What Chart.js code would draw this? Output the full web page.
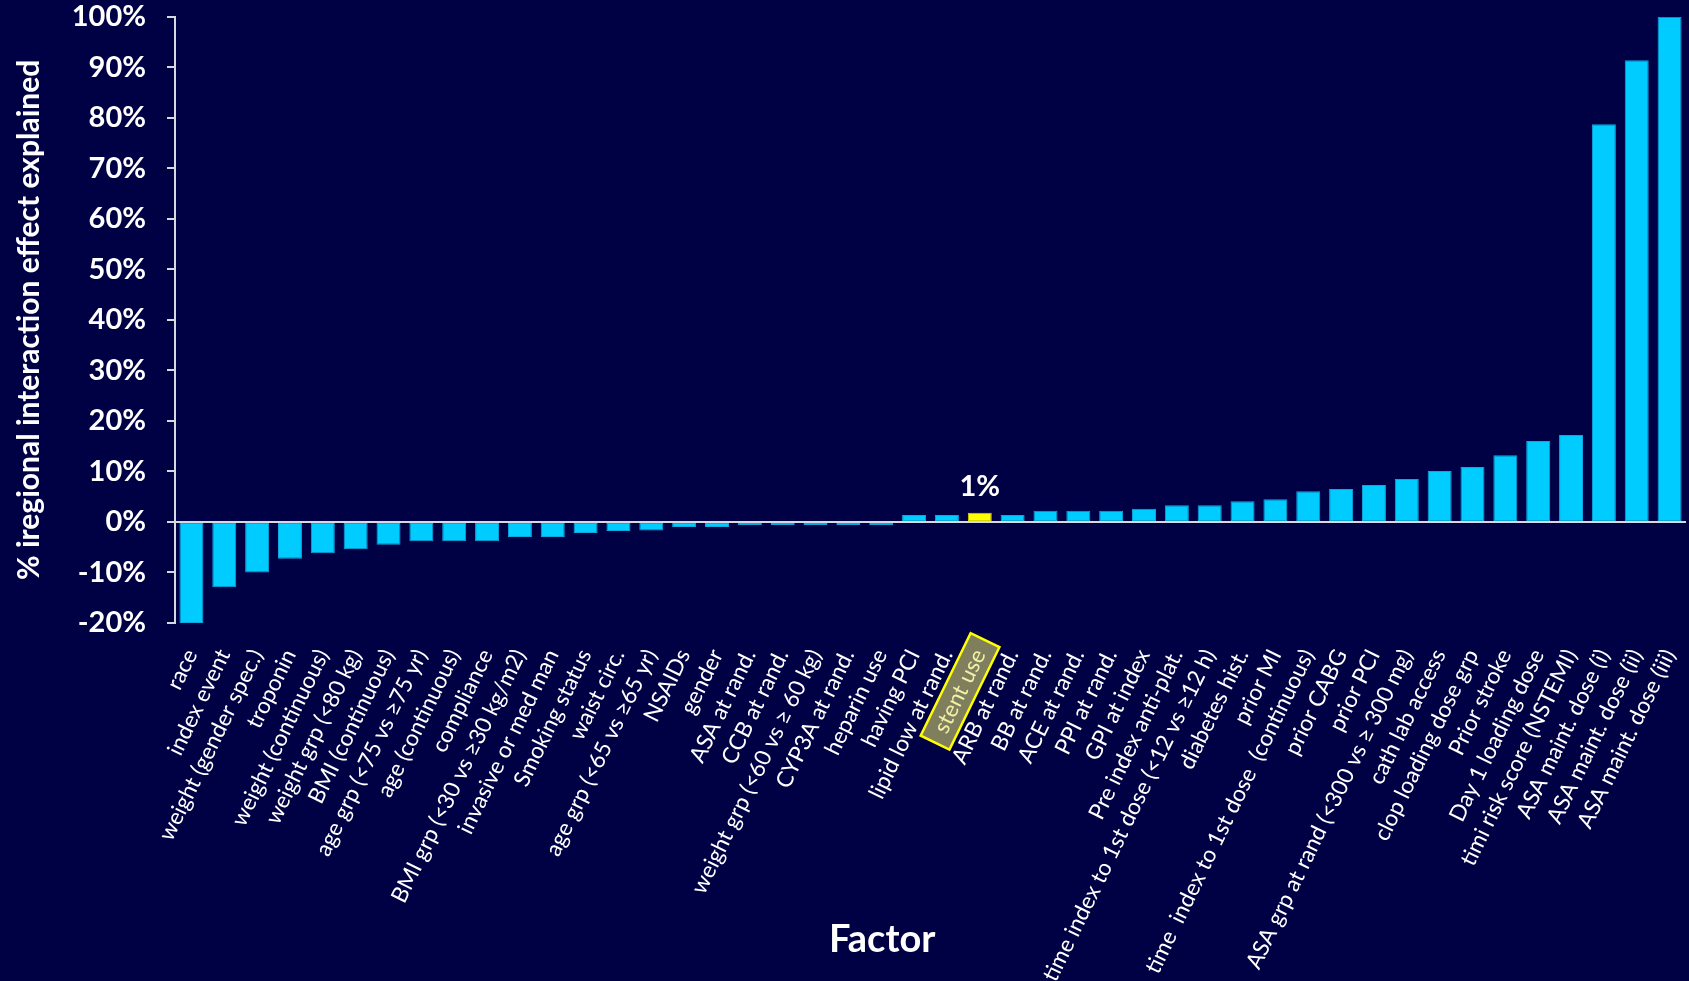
<!DOCTYPE html>
<html>
<head>
<meta charset="utf-8">
<script src="https://cdn.jsdelivr.net/npm/chart.js@4/dist/chart.umd.min.js"></script>
<style>
html,body{margin:0;padding:0;background:#000045;overflow:hidden}
canvas{display:block}
</style>
</head>
<body>
<canvas id="c" width="1689" height="981"></canvas>
<script>
const categories = [
  'race', 'index event', 'weight (gender spec.)', 'troponin', 'weight (continuous)',
  'weight grp (<80 kg)', 'BMI (continuous)', 'age grp (<75 vs \u226575 yr)', 'age (continuous)', 'compliance',
  'BMI grp (<30 vs \u226530 kg/m2)', 'invasive or med man', 'Smoking status', 'waist circ.', 'age grp (<65 vs \u226565 yr)',
  'NSAIDs', 'gender', 'ASA at rand.', 'CCB at rand.', 'weight grp (<60 vs \u2265 60 kg)',
  'CYP3A at rand.', 'heparin use', 'having PCI', 'lipid low at rand.', 'stent use',
  'ARB at rand.', 'BB at rand.', 'ACE at rand.', 'PPI at rand.', 'GPI at index',
  'Pre index anti-plat.', 'time index to 1st dose (<12 vs \u226512 h)', 'diabetes hist.', 'prior MI', 'time  index to 1st dose  (continuous)',
  'prior CABG', 'prior PCI', 'ASA grp at rand (<300 vs \u2265 300 mg)', 'cath lab access', 'clop loading dose grp',
  'Prior stroke', 'Day 1 loading dose', 'timi risk score (NSTEMI)', 'ASA maint. dose (i)', 'ASA maint. dose (ii)',
  'ASA maint. dose (iii)'
];
const values = [
  -20, -12.9, -10.0, -7.3, -6.2,
  -5.4, -4.5, -3.8, -3.8, -3.8,
  -3.0, -3.0, -2.2, -1.8, -1.7,
  -1.0, -1.0, -0.6, -0.6, -0.6,
  -0.6, -0.6, 1.4, 1.4, 1.8,
  1.4, 2.2, 2.2, 2.2, 2.6,
  3.3, 3.3, 4.1, 4.5, 6.1,
  6.5, 7.3, 8.5, 10.1, 10.9,
  13.2, 16.0, 17.2, 78.7, 91.4,
  100
];
const yMin = -20;
const yMax = 100;
const yStep = 10;
const highlightLabel = 'stent use';
const highlightText = '1%';
const yTitle = '% iregional interaction effect explained';
const xTitle = 'Factor';

const FONT = 'Lato';
const BG = '#000045';
const AXIS = '#d8d8e0';
const BAR = '#00ccff';
const HI = '#ffff00';
const XFONT = 22.5;
const XPAD = 22;
const XROT = 64;
const hiIndex = categories.indexOf(highlightLabel);

const decor = {
  id: 'decor',
  beforeDraw(chart) {
    const ctx = chart.ctx;
    ctx.save();
    ctx.fillStyle = BG;
    ctx.fillRect(0, 0, chart.width, chart.height);
    const xs = chart.scales.x;
    const lh = XFONT * 1.2;
    const r = -xs.labelRotation * Math.PI / 180;
    const tx = xs.getPixelForTick(hiIndex) + (lh / 2) * Math.sin(r);
    const ty = xs.top + XPAD;
    ctx.translate(tx, ty);
    ctx.rotate(r);
    ctx.font = XFONT + 'px ' + FONT;
    const w = ctx.measureText(highlightLabel).width;
    const padX = 12, h = 32;
    ctx.fillStyle = '#7f7f5e';
    ctx.fillRect(-w - padX, lh / 2 - h / 2, w + 2 * padX, h);
    ctx.strokeStyle = HI;
    ctx.lineWidth = 2.5;
    ctx.strokeRect(-w - padX, lh / 2 - h / 2, w + 2 * padX, h);
    ctx.restore();
  },
  afterDraw(chart) {
    const ctx = chart.ctx;
    ctx.save();
    const bar = chart.getDatasetMeta(0).data[hiIndex];
    ctx.fillStyle = '#ffffff';
    ctx.textAlign = 'center';
    ctx.textBaseline = 'alphabetic';
    ctx.font = 'bold 29px ' + FONT;
    ctx.fillText(highlightText, bar.x, bar.y - 17);
    ctx.font = 'bold 38px ' + FONT;
    const ca = chart.chartArea;
    ctx.fillText(xTitle, ca.left + (ca.right - ca.left) * 0.468, 952);
    ctx.restore();
  }
};

new Chart(document.getElementById('c'), {
  type: 'bar',
  data: {
    labels: categories,
    datasets: [{
      data: values,
      backgroundColor: c => c.dataIndex === hiIndex ? HI : BAR,
      borderColor: c => c.dataIndex === hiIndex ? '#d8d800' : '#0aa8de',
      borderWidth: 1,
      borderSkipped: false,
      barPercentage: 0.73,
      categoryPercentage: 1.0
    }]
  },
  options: {
    responsive: false,
    devicePixelRatio: 1,
    animation: false,
    layout: { padding: { left: 0, right: 3, top: 0, bottom: 0 } },
    plugins: { legend: { display: false }, tooltip: { enabled: false } },
    scales: {
      x: {
        ticks: {
          color: c => c.index === hiIndex ? '#f0f0a8' : '#ffffff',
          font: { family: FONT, size: XFONT },
          minRotation: XROT, maxRotation: XROT,
          autoSkip: false,
          padding: XPAD
        },
        grid: { display: false, drawTicks: false },
        border: { display: false },
        afterFit: s => { s.height = 358; s.paddingLeft = 0; s.paddingRight = 0; }
      },
      y: {
        min: yMin, max: yMax,
        ticks: {
          stepSize: yStep,
          color: '#ffffff',
          font: { family: FONT, size: 29, weight: 'bold' },
          padding: 21,
          callback: v => v + '%'
        },
        grid: {
          color: c => (c.tick && c.tick.value === 0) ? AXIS : 'rgba(0,0,0,0)',
          tickColor: AXIS,
          lineWidth: 2,
          tickLength: 8
        },
        border: { display: true, color: AXIS, width: 2 },
        title: {
          display: true, text: yTitle, color: '#ffffff',
          font: { family: FONT, size: 30, weight: 'bold' },
          padding: { top: 11, bottom: 0 }
        },
        afterFit: s => { s.width = 175; s.paddingTop = 16.7; s.paddingBottom = 16.7; }
      }
    }
  },
  plugins: [decor]
});
</script>
</body>
</html>
